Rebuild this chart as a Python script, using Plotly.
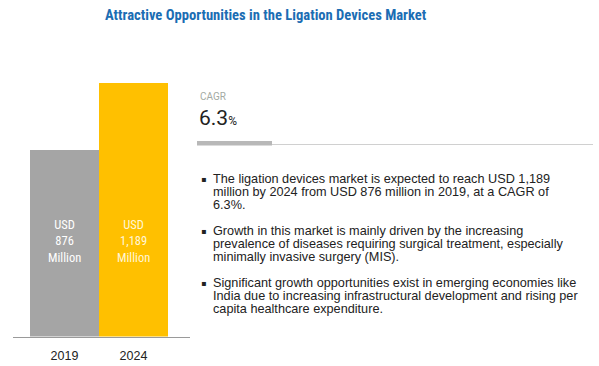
import plotly.graph_objects as go

# ---- data ----
years = ["2019", "2024"]
market_values = [876, 1189]          # USD million
bar_colors = ["#a5a5a5", "#ffc000"]
cagr_value = 6.3
title_text = "Attractive Opportunities in the Ligation Devices Market"
bullet_lines = [
    ["The ligation devices market is expected to reach USD 1,189",
     "million by 2024 from USD 876 million in 2019, at a CAGR of",
     "6.3%."],
    ["Growth in this market is mainly driven by the increasing",
     "prevalence of diseases requiring surgical treatment, especially",
     "minimally invasive surgery (MIS)."],
    ["Significant growth opportunities exist in emerging economies like",
     "India due to increasing infrastructural development and rising per",
     "capita healthcare expenditure."],
]

W, H = 599, 366
def px(x):
    return x / W
def py(y):
    return 1 - y / H

fig = go.Figure()
fig.add_trace(go.Bar(
    x=years, y=market_values,
    marker=dict(color=bar_colors, line=dict(width=0)),
    hoverinfo="skip", showlegend=False,
))

narrow = "Liberation Sans Narrow, Arial Narrow, Roboto Condensed, sans-serif"
label_colors = ["#ffffff", "#fff6d8"]
annotations = []
# bar labels
for i, v in enumerate(market_values):
    annotations.append(dict(
        x=i, y=447, xref="x", yref="y",
        text=f"USD<br>{v:,}<br>Million", showarrow=False,
        font=dict(family=narrow, size=12.5, color=label_colors[i]),
        xanchor="center", yanchor="middle", align="center",
    ))

# title
annotations.append(dict(
    x=px(265.5), y=py(15), xref="paper", yref="paper",
    text=f"<b>{title_text}</b>", showarrow=False,
    font=dict(family=narrow, size=14.6, color="#1b6db3"),
    xanchor="center", yanchor="middle",
))
# CAGR block
annotations.append(dict(
    x=px(198), y=py(96), xref="paper", yref="paper",
    text="CAGR", showarrow=False,
    font=dict(family="Roboto, sans-serif", size=10, color="#a3aaa3"),
    xanchor="left", yanchor="middle",
))
annotations.append(dict(
    x=px(197), y=py(118), xref="paper", yref="paper",
    text=f"{cagr_value}<span style='font-size:12px'>%</span>", showarrow=False,
    font=dict(family="Roboto, sans-serif", size=21, color="#222222"),
    xanchor="left", yanchor="middle",
))

# bullets
para_tops = [179, 231, 283]
line_step = 13.2
for top, lines in zip(para_tops, bullet_lines):
    annotations.append(dict(
        x=px(199), y=py(top), xref="paper", yref="paper",
        text="▪", showarrow=False,
        font=dict(family="DejaVu Sans, sans-serif", size=8, color="#222222"),
        xanchor="left", yanchor="middle",
    ))
    for i, ln in enumerate(lines):
        annotations.append(dict(
            x=px(211), y=py(top + i * line_step), xref="paper", yref="paper",
            text=ln, showarrow=False,
            font=dict(family="Liberation Sans, Arial, sans-serif", size=12.7, color="#222222"),
            xanchor="left", yanchor="middle",
        ))

shapes = [
    dict(type="line", xref="paper", yref="paper",
         x0=px(197), x1=px(593), y0=py(144.5), y1=py(144.5),
         line=dict(color="#d0d0d0", width=1)),
    dict(type="rect", xref="paper", yref="paper",
         x0=px(197), x1=px(272), y0=py(145.5), y1=py(141),
         line=dict(width=0), fillcolor="#b8b8b8"),
]

fig.update_layout(
    width=W, height=H,
    margin=dict(l=0, r=0, t=0, b=0),
    paper_bgcolor="white", plot_bgcolor="white",
    bargap=0,
    annotations=annotations, shapes=shapes,
    xaxis=dict(
        domain=[px(13), px(190)], type="category",
        range=[-0.746, 1.82], showline=True, linecolor="#9a9a9a", linewidth=1,
        showgrid=False, zeroline=False,
        ticks="outside", ticklen=7, tickcolor="rgba(0,0,0,0)",
        tickfont=dict(family="Liberation Sans, Arial, sans-serif", size=12.5, color="#222222"),
        fixedrange=True,
    ),
    yaxis=dict(
        domain=[py(336.5), py(336.5 - 1250 * 0.2135)], range=[0, 1250],
        visible=False, showgrid=False, zeroline=False, fixedrange=True,
    ),
)

fig.write_html(
    "out.html",
    config={"displayModeBar": False},
    post_script="document.body.style.margin='0';document.body.style.overflow='hidden';",
)
